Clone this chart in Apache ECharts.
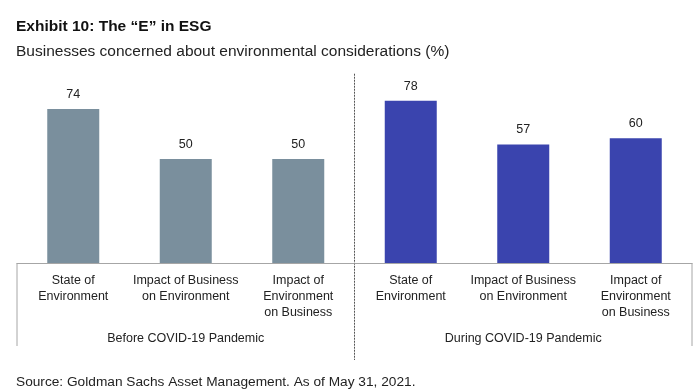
<!DOCTYPE html>
<html><head><meta charset="utf-8">
<script src="https://cdn.jsdelivr.net/npm/echarts@6/dist/echarts.min.js"></script>
<style>html,body{margin:0;padding:0;background:#fff}#c{width:700px;height:391px}</style>
</head><body><div id="c"></div>
<script>
const categories = ['State of\nEnvironment','Impact of Business\non Environment','Impact of\nEnvironment\non Business','State of\nEnvironment','Impact of Business\non Environment','Impact of\nEnvironment\non Business'];
const groups = ['Before COVID-19 Pandemic','During COVID-19 Pandemic'];
const beforeValues = [74, 50, 50];
const duringValues = [78, 57, 60];
const beforeColor = '#7a8f9d';
const duringColor = '#3a44ae';
const narrow = '"Liberation Sans Narrow", "Arial Narrow", "Liberation Sans", Arial, sans-serif';
const sans = '"Liberation Sans", Arial, sans-serif';

const data = beforeValues.map(v => ({value: v, itemStyle: {color: beforeColor}}))
  .concat(duringValues.map(v => ({value: v, itemStyle: {color: duringColor}})));

const chart = echarts.init(document.getElementById('c'), null, {renderer: 'canvas'});
chart.setOption({
  animation: false,
  title: [
    {text: 'Exhibit 10: The \u201cE\u201d in ESG', left: 11, top: 14,
     textStyle: {fontFamily: sans, fontSize: 15.5, fontWeight: 'bold', color: '#111'}},
    {text: 'Businesses concerned about environmental considerations (%)', left: 11, top: 39,
     textStyle: {fontFamily: sans, fontSize: 15.5, fontWeight: 'normal', color: '#222'}},
    {text: 'Source: Goldman Sachs Asset Management. As of May 31, 2021.', left: 11, top: 370,
     textStyle: {fontFamily: sans, fontSize: 13.7, fontWeight: 'normal', color: '#222'}}
  ],
  grid: {left: 17, right: 8, top: 55, bottom: 128, containLabel: false},
  xAxis: [
    {type: 'category', data: categories, position: 'bottom',
     axisLine: {lineStyle: {color: '#a6a6a6', width: 1}},
     axisTick: {show: false},
     axisLabel: {interval: 0, margin: 10, color: '#222', fontFamily: narrow, fontSize: 12.5, lineHeight: 16}},
    {type: 'category', data: groups, position: 'bottom', offset: 61,
     axisLine: {show: false}, axisTick: {show: false},
     axisLabel: {interval: 0, color: '#222', fontFamily: narrow, fontSize: 12.5}}
  ],
  yAxis: {type: 'value', min: 0, max: 100, show: false, splitLine: {show: false}},
  series: [{
    type: 'bar', xAxisIndex: 0, data: data, barWidth: 52,
    label: {show: true, position: 'top', distance: 8, color: '#222', fontFamily: narrow, fontSize: 12.5}
  }]
});

function drawLines() {
  const y0 = chart.convertToPixel({yAxisIndex: 0}, 0);
  const yTop = chart.convertToPixel({yAxisIndex: 0}, 91);
  const c0 = chart.convertToPixel({xAxisIndex: 0}, 0);
  const c1 = chart.convertToPixel({xAxisIndex: 0}, 1);
  const step = c1 - c0;
  const xl = c0 - step / 2;
  const xm = chart.convertToPixel({xAxisIndex: 0}, 2) + step / 2;
  const xr = chart.convertToPixel({xAxisIndex: 0}, 5) + step / 2;
  const yb = y0 + 83;
  chart.setOption({graphic: [
    {type: 'line', shape: {x1: xl, y1: y0, x2: xl, y2: yb}, style: {stroke: '#a6a6a6', lineWidth: 1}},
    {type: 'line', shape: {x1: xr, y1: y0, x2: xr, y2: yb}, style: {stroke: '#a6a6a6', lineWidth: 1}},
    {type: 'line', shape: {x1: xm, y1: yTop, x2: xm, y2: yb + 14}, style: {stroke: '#555', lineWidth: 1, lineDash: [2, 1]}}
  ]});
}
drawLines();
</script>
</body></html>
